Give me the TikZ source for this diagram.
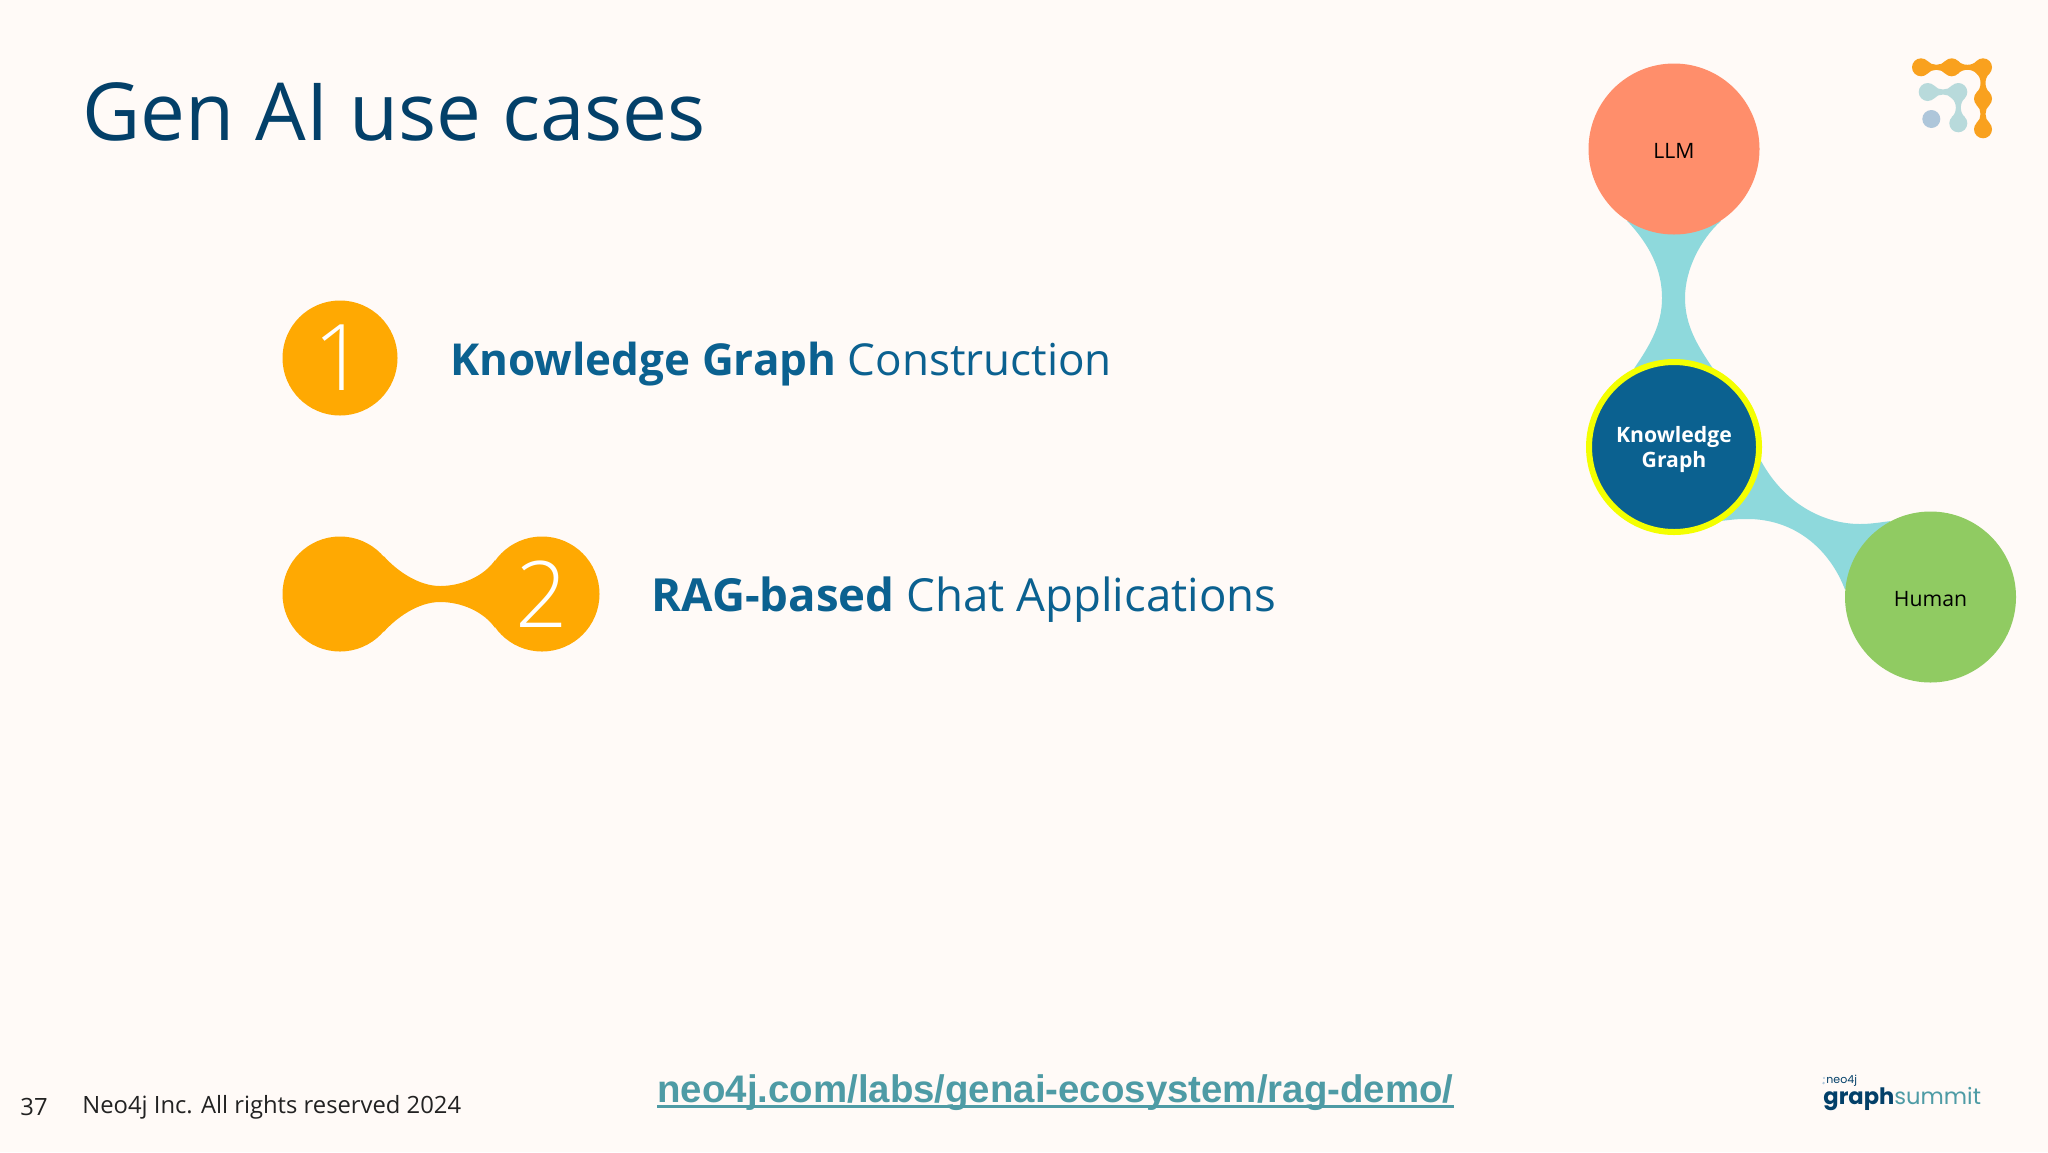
\documentclass[tikz,border=0pt]{standalone}
\usepackage{fontspec}
\setmainfont{Open Sans}
\newfontfamily\linkfont{Liberation Sans}
\newfontfamily\digitfont{Open Sans Light}
\newfontfamily\logofont{Poppins}
\usetikzlibrary{backgrounds}
\definecolor{bgc}{HTML}{FFFAF7}
\definecolor{titlec}{HTML}{034069}
\definecolor{bluec}{HTML}{0B6190}
\definecolor{orangec}{HTML}{FFA902}
\definecolor{salmonc}{HTML}{FF8E6B}
\definecolor{greenc}{HTML}{90CB62}
\definecolor{linkc}{HTML}{8ED9DC}
\definecolor{urlc}{HTML}{4E9BA5}
\definecolor{yellowc}{HTML}{F4FF00}
\definecolor{logoo}{HTML}{F9A11E}
\definecolor{logot}{HTML}{B8DADB}
\definecolor{logob}{HTML}{AEC6DA}
\definecolor{footc}{HTML}{222222}
\tikzset{
  x=0.5pt,y=-0.5pt,
  mapnode/.style={circle,minimum size=85.5pt,inner sep=0pt,align=center,font=\fontsize{10.6}{12.5}\selectfont},
  badge/.style={circle,fill=orangec,minimum size=57.5pt,inner sep=0pt,text=white,font=\digitfont\fontsize{46}{46}\selectfont},
  txt/.style={anchor=base west,inner sep=0pt,text=bluec},
}
\newcommand{\hneck}[3]{% x1, x2, y : neck between logo dots
  \fill ({#1+6.4},{#3-6.4}) .. controls ({#1+10.5},{#3-1.2}) and ({#2-10.5},{#3-1.2}) .. ({#2-6.4},{#3-6.4})
     -- ({#2-6.4},{#3+6.4}) .. controls ({#2-10.5},{#3+1.2}) and ({#1+10.5},{#3+1.2}) .. ({#1+6.4},{#3+6.4}) -- cycle;}
\newcommand{\vneck}[3]{% x, y1, y2
  \fill ({#1-6.4},{#2+6.4}) .. controls ({#1-1.2},{#2+10.5}) and ({#1-1.2},{#3-10.5}) .. ({#1-6.4},{#3-6.4})
     -- ({#1+6.4},{#3-6.4}) .. controls ({#1+1.2},{#3-10.5}) and ({#1+1.2},{#2+10.5}) .. ({#1+6.4},{#2+6.4}) -- cycle;}
\newcommand{\lowered}[1]{\raisebox{-4.5pt}[0pt][0pt]{#1}}
\begin{document}
\begin{tikzpicture}
\useasboundingbox (0,0) rectangle (2048,1152);
% title
\node[anchor=base west,inner sep=0pt,text=titlec,font=\fontsize{40}{46}\selectfont] (title) at (82,140) {Gen AI use cases};
% badges
\node[badge] (one) at (340,358) {1};
\node[badge] (twol) at (340,594) {};
\node[badge] (two) at (542,594) {2};
\begin{scope}[on background layer]
  \fill[bgc] (0,0) rectangle (2048,1152);
  \fill[orangec] (twol.41) .. controls (396,570) and (418,586) .. (440,586)
     .. controls (462,586) and (484,576) .. (two.144)
     -- (two.-144) .. controls (484,612) and (462,602) .. (440,602)
     .. controls (418,602) and (396,618) .. (twol.-41) -- cycle;
\end{scope}
\node[txt,font=\fontsize{22}{24}\selectfont] (t1) at (450,375) {\textbf{Knowledge Graph} Construction};
\node[txt,font=\fontsize{22.8}{24}\selectfont] (t2) at (651,611) {\textbf{RAG-based} Chat Applications};
% right diagram
\node[mapnode,fill=salmonc] (llm) at (1674,149) {\lowered{LLM}};
\node[mapnode,fill=bluec,draw=yellowc,line width=3pt,minimum size=85pt,text=white] (kg) at (1674,447) {\rule{0pt}{11pt}\textbf{Knowledge}\\\textbf{Graph}};
\node[mapnode,fill=greenc] (human) at (1930.5,597) {\lowered{Human}};
\begin{scope}[on background layer]
  \fill[linkc] (llm.-123) .. controls (1650,245) and (1662,270) .. (1662,298)
     .. controls (1662,325) and (1650,345) .. (kg.117)
     -- (kg.64) .. controls (1697,345) and (1685,325) .. (1685,298)
     .. controls (1685,270) and (1700,240) .. (llm.-57) -- cycle;
  \fill[linkc] (kg.-9) .. controls (1785,505) and (1825,524) .. (1860,524)
     .. controls (1872,524) and (1882,522) .. (human.118)
     -- (human.175) .. controls (1830,550) and (1795,518) .. (1745,519)
     .. controls (1735,519) and (1730,520) .. (kg.-57) -- cycle;
\end{scope}
% logo top right
\fill[logoo] (1921,67.3) circle (9) (1951.7,67.3) circle (9) (1983,67.3) circle (9) (1983,98.7) circle (9) (1983,129.3) circle (9);
\begin{scope}[fill=logoo]
  \hneck{1921}{1951.7}{67.3}\hneck{1951.7}{1983}{67.3}\vneck{1983}{67.3}{98.7}\vneck{1983}{98.7}{129.3}
\end{scope}
\fill[logot] (1927.7,92) circle (9) (1958.3,92) circle (9) (1958.3,123.3) circle (9);
\begin{scope}[fill=logot]
  \hneck{1927.7}{1958.3}{92}\vneck{1958.3}{92}{123.3}
\end{scope}
\fill[logob] (1931.3,119) circle (9);
% footer
\node[anchor=base west,inner sep=0pt,text=footc,font=\fontsize{11.9}{13}\selectfont] (page) at (20,1115) {37};
\node[anchor=base west,inner sep=0pt,text=footc,font=\fontsize{11.9}{13}\selectfont] (foot) at (82,1113) {Neo4j Inc. All rights reserved 2024};
\node[anchor=base west,inner sep=0pt,text=urlc,font=\linkfont\bfseries\fontsize{19.2}{22}\selectfont] (url) at (657,1102) {neo4j.com/labs/genai-ecosystem/rag-demo/};
\draw[urlc,line width=1.1pt] ([yshift=-2.2pt]url.base west) -- ([yshift=-2.2pt]url.base east);
% graphsummit logo
\node[anchor=base west,inner sep=0pt,text=titlec,font=\logofont\fontsize{5.5}{6}\selectfont] (neo) at (1826,1083) {neo4j};
\fill[logob] (1824,1078) circle (1.1) (1823.5,1083) circle (1.3);
\node[anchor=base west,inner sep=0pt,font=\logofont\fontsize{11.3}{14}\selectfont] (gs) at (1823,1104) {\textcolor{titlec}{\textbf{graph}}\textcolor{urlc}{summit}};
\end{tikzpicture}
\end{document}
